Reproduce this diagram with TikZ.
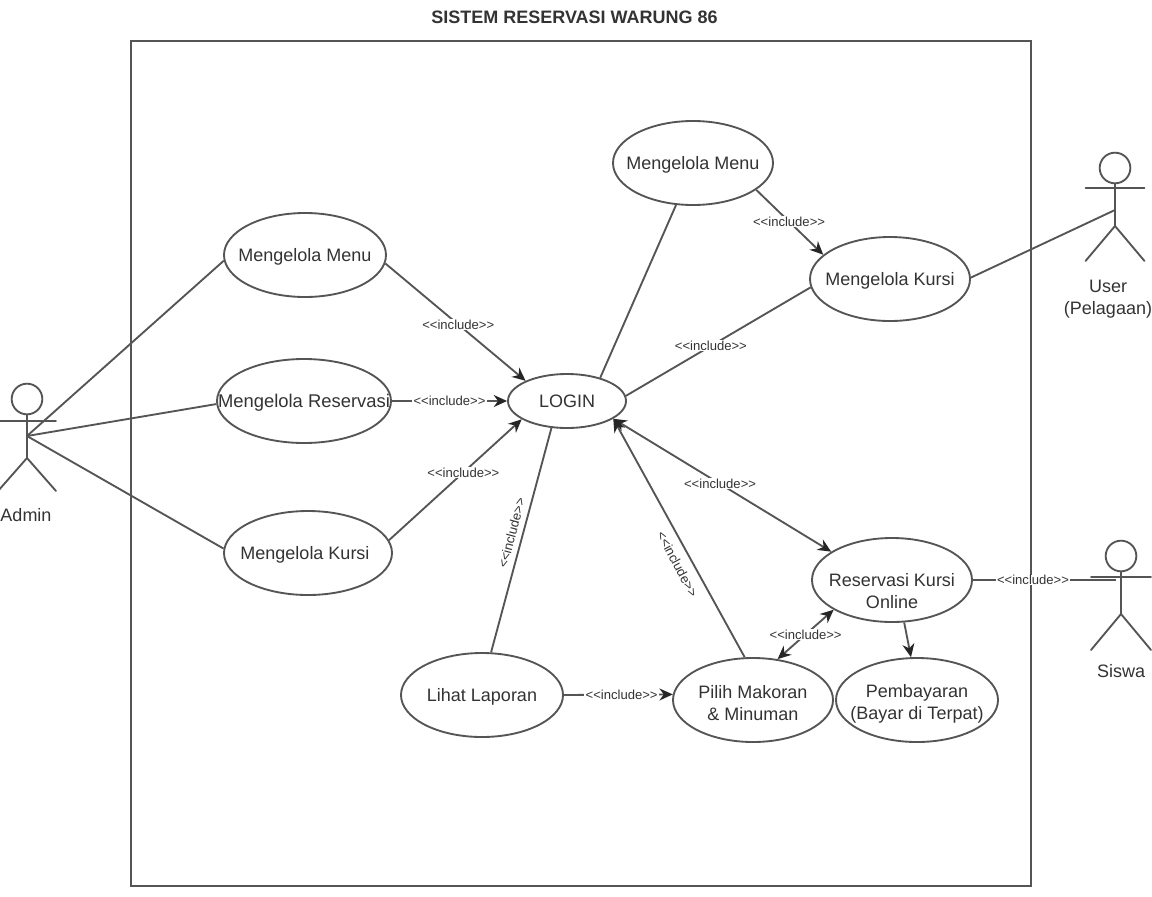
\documentclass[tikz,border=0pt]{standalone}
\usepackage{fontspec}
\setmainfont{Liberation Sans}
\usetikzlibrary{arrows.meta,shapes.geometric}
\definecolor{ln}{HTML}{555555}
\definecolor{tx}{HTML}{333333}
\NewDocumentCommand{\uct}{O{-5pt} O{0pt} m}{\makebox[0pt]{\smash{\raisebox{#1}{\kern#2\begin{tabular}{@{}c@{}}#3\end{tabular}}}}}
\newcommand{\incl}{<{}<include>{}>}
\tikzset{
  x=0.75pt,y=-0.75pt,
  uc/.style={ellipse,draw=ln,line width=1.4pt,fill=white,inner sep=0pt,text=tx,font=\fontsize{13.5}{16.5}\selectfont,minimum width=121.5pt,minimum height=63pt},
  conn/.style={draw=ln,line width=1.4pt},
  arr/.style={conn,-{Stealth[length=10pt,width=9pt,color=black!85]}},
  darr/.style={conn,{Stealth[length=10pt,width=9pt,color=black!85]}-{Stealth[length=10pt,width=9pt,color=black!85]}},
  lbl/.style={fill=white,inner xsep=1pt,inner ysep=0.5pt,text=tx,font=\fontsize{9.8}{10}\selectfont},
  lblfree/.style={text=tx,inner sep=0pt,font=\fontsize{9.8}{10}\selectfont},
  actortext/.style={text=tx,align=center,font=\fontsize{13.5}{16.5}\selectfont},
  stick/.style={draw=ln,line width=1.4pt,line cap=round},
  head/.style={circle,draw=ln,line width=1.4pt,inner sep=0pt,minimum size=23pt}
}
\newcommand{\stickman}[7]{% name, x, headY, armY, hipY, footY, half span
  \node[head] (#1head) at (#2,#3) {};
  \coordinate (#1hip) at (#2,#5);
  \draw[stick] (#1head.south) -- (#1hip);
  \draw[stick] (#2-#7,#4) -- (#2+#7,#4);
  \draw[stick] (#2-#7,#6) -- (#1hip) -- (#2+#7,#6);
}
\begin{document}
\begin{tikzpicture}
\useasboundingbox (0,0) rectangle (1152,896);
\clip (0,0) rectangle (1152,896);
\fill[white] (0,0) rectangle (1152,896);
\node[font=\bfseries\fontsize{13.5}{16}\selectfont,text=tx] (title) at (574.5,17) {SISTEM RESERVASI WARUNG 86};
\node[draw=ln,line width=1.4pt,minimum width=675pt,minimum height=633.75pt,inner sep=0pt] (frame) at (581,463.5) {};

\stickman{admin}{27}{399}{421}{458}{491}{29}{}
\coordinate (adminhub) at (27,436);
\node[actortext] (adminname) at (26,515) {Admin};
\stickman{user}{1115}{168}{188}{226}{261}{29.5}{}
\coordinate (userhub) at (1115,210);
\node[actortext] (username) at (1108,299) {User\\(Pelagaan)};
\stickman{siswa}{1121}{556}{577}{614}{650}{30}{}
\coordinate (siswahub) at (1116,580);
\node[actortext] (siswaname) at (1121,671) {Siswa};

\node[uc] (menuL) at (305,255) {\uct{Mengelola Menu}};
\node[uc,minimum width=130.5pt] (resv) at (304,401) {\uct{\fontsize{13.8}{16.5}\selectfont Mengelola Reservasi}};
\node[uc,minimum width=126pt] (kursiL) at (308,553) {\uct[-5pt][-4.5pt]{Mengelola Kursi}};
\node[uc,minimum width=88.5pt,minimum height=40.5pt] (login) at (567,401) {\uct[-5pt]{LOGIN}};
\node[uc,minimum width=120pt] (menuT) at (693,163) {\uct{Mengelola Menu}};
\node[uc,minimum width=120pt] (kursiR) at (890,279) {\uct{Mengelola Kursi}};
\node[uc,minimum width=120pt] (online) at (892,580) {\uct[-13.5pt]{Reservasi Kursi\\Online}};
\node[uc] (bayar) at (917,700) {\uct[-6.5pt]{Pembayaran\\(Bayar di Terpat)}};
\node[uc,minimum width=120pt] (pilih) at (753,700) {\uct[-7.5pt]{Pilih Makoran\\\& Minuman}};
\node[uc] (lihat) at (482,695) {\uct{Lihat Laporan}};

\draw[conn] (adminhub) -- (menuL.184);
\draw[conn] (adminhub) -- (resv.182);
\draw[conn] (adminhub) -- (kursiL.177);
\draw[arr] (menuL.-6) -- node[lbl,pos=.52] (l1) {\incl} (login.154);
\draw[arr] (resv.0) -- node[lbl,pos=.5] (l2) {\incl} (login.180);
\draw[arr] (kursiL.9) -- node[lbl,pos=.56] (l3) {\incl} (login.202);
\draw[conn] (menuT.248) -- (login.35);
\draw[arr] (menuT.-23) -- node[lbl,pos=.49] (l4) {\incl} (kursiR.160);
\draw[conn] (login.5) -- node[lbl,pos=.46] (l5) {\incl} (kursiR.186);
\draw[conn] (kursiR.1) -- (userhub);
\draw[darr] (login.-21.6) -- node[lbl,pos=.49] (l6) {\incl} (online.155);
\draw[conn] (lihat.78) -- node[lblfree,pos=.55,xshift=-9.5pt,yshift=-3pt,rotate=75] (l7) {\incl} (login.240);
\draw[arr] (pilih.101) -- node[lblfree,pos=.39,xshift=-12pt,rotate=-62] (l8) {\incl} (login.-21.6);
\draw[darr] (pilih.59) -- node[lbl,pos=.5] (l9) {\incl} (online.207);
\draw[arr] (lihat.0) -- node[lbl,pos=.53] (l10) {\incl} (pilih.176);
\draw[arr] (online.-74) -- (bayar.98);
\draw[conn] (online.0) -- node[lbl,pos=.42] (l11) {\incl} (siswahub);
\end{tikzpicture}
\end{document}
